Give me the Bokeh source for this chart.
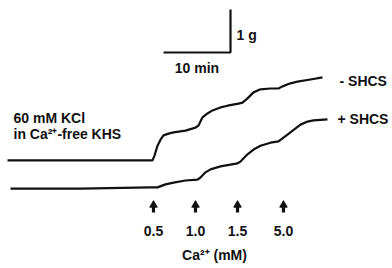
from bokeh.plotting import figure
from bokeh.models import Range1d
from bokeh.core.properties import value
from bokeh.embed import file_html
from bokeh.resources import INLINE

# ---- data (time in min, tension in g) ----
t_minus = [0.0, 21.64, 21.94, 22.39, 22.84, 23.28, 24.03, 24.78, 26.57, 28.06, 28.51,
           29.10, 29.85, 30.60, 31.79, 32.84, 34.48, 35.07, 35.82, 36.72, 37.76,
           39.25, 40.45, 41.04, 42.24, 43.28, 45.22, 47.01]
g_minus = [2.33, 2.33, 2.44, 2.67, 2.81, 2.91, 2.95, 2.98, 3.02, 3.09, 3.14,
           3.33, 3.42, 3.49, 3.56, 3.60, 3.65, 3.67, 3.77, 3.91, 3.98,
           4.00, 4.00, 4.05, 4.12, 4.16, 4.21, 4.26]

t_plus = [0.45, 10.90, 21.34, 22.39, 23.58, 24.78, 26.57, 28.36, 28.81, 29.55,
          30.30, 31.79, 33.28, 34.33, 34.78, 35.82, 36.72, 37.76, 39.25, 40.45,
          41.79, 43.73, 44.78, 45.67, 47.76]
g_plus = [1.67, 1.67, 1.70, 1.70, 1.77, 1.81, 1.86, 1.88, 1.93, 2.05,
          2.12, 2.19, 2.23, 2.26, 2.30, 2.47, 2.58, 2.67, 2.74, 2.77,
          2.93, 3.16, 3.23, 3.26, 3.28]

ca_times = [21.79, 28.06, 34.33, 41.19]
ca_labels = ["0.5", "1.0", "1.5", "5.0"]

scale_t = 10   # min
scale_g = 1    # g

PX_T = 6.7   # px per min
PX_G = 43.0  # px per g
W, H = 392, 268
X0 = -7 / PX_T          # range start (min)
Y0 = (260 - H) / PX_G   # range start (g)

p = figure(width=W, height=H, output_backend="svg", toolbar_location=None,
           x_range=Range1d(X0, X0 + W / PX_T), y_range=Range1d(Y0, Y0 + H / PX_G),
           min_border=0)
p.axis.visible = False
p.grid.visible = False
p.outline_line_color = None
p.background_fill_color = "white"

ink = "#111111"
FONT = value("Liberation Sans")

p.line(t_minus, g_minus, line_color=ink, line_width=2.2, line_join="round")
p.line(t_plus, g_plus, line_color=ink, line_width=2.2, line_join="round")

def py(px):
    return (H - px) / PX_G + Y0

def tx(px):
    return px / PX_T + X0

# arrows
p.segment(x0=ca_times, y0=[py(212)] * 4, x1=ca_times, y1=[py(205)] * 4,
          line_color=ink, line_width=3.2)
p.scatter(ca_times, [py(204.5)] * 4, marker="triangle", size=7.5,
          fill_color=ink, line_color=ink)
p.text(ca_times, [py(230)] * 4, text=ca_labels, text_font=FONT,
       text_font_style="bold", text_font_size="14px", text_align="center",
       text_baseline="middle", text_color=ink)

# scale bar
sx0 = tx(163)
sy0 = py(52)
p.line([sx0, sx0 + scale_t, sx0 + scale_t], [sy0, sy0, sy0 + scale_g],
       line_color=ink, line_width=2.2)

def label(x, y, s, align="left"):
    p.text([x], [y], text=[s], text_font=FONT, text_font_style="bold",
           text_font_size="14px", text_align=align, text_baseline="middle",
           text_color=ink)

label(sx0 + scale_t + 0.9, py(34), "1 g")
label(sx0 + scale_t / 2, py(67), "10 min", "center")
label(tx(13), py(117), "60 mM KCl")
label(tx(13), py(133), "in Ca²⁺-free KHS")
label(tx(339), py(80), "- SHCS")
label(tx(337), py(118), "+ SHCS")
label(tx(214), py(254), "Ca²⁺ (mM)", "center")

open("out.html", "w").write(file_html(p, INLINE))
